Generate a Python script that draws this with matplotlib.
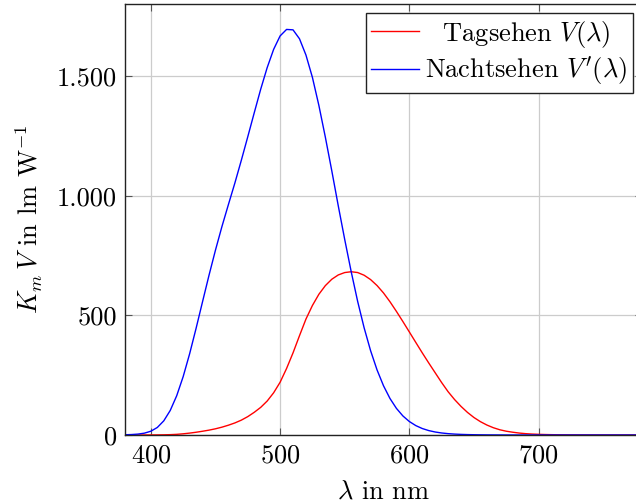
import matplotlib
matplotlib.use('Agg')
import matplotlib.pyplot as plt
from matplotlib.ticker import FuncFormatter, MultipleLocator

# Wellenlängen in nm (5-nm-Raster)
wavelength = list(range(380, 785, 5))

# Hellempfindlichkeit Tagsehen V(λ), relativ
v_photopic = [
    0.000039, 0.000064, 0.00012, 0.000217, 0.000396, 0.00064, 0.00121, 0.00218,
    0.004, 0.0073, 0.0116, 0.01684, 0.023, 0.0298, 0.038, 0.048, 0.06, 0.0739,
    0.09098, 0.1126, 0.13902, 0.1693, 0.20802, 0.2586, 0.323, 0.4073, 0.503,
    0.6082, 0.71, 0.7932, 0.862, 0.91485, 0.954, 0.9803, 0.99495, 1.0, 0.995,
    0.9786, 0.952, 0.9154, 0.87, 0.8163, 0.757, 0.6949, 0.631, 0.5668, 0.503,
    0.4412, 0.381, 0.321, 0.265, 0.217, 0.175, 0.1382, 0.107, 0.0816, 0.061,
    0.04458, 0.032, 0.0232, 0.017, 0.01192, 0.00821, 0.005723, 0.004102,
    0.002929, 0.002091, 0.001484, 0.001047, 0.00074, 0.00052, 0.000361,
    0.000249, 0.000172, 0.00012, 0.0000848, 0.00006, 0.0000424, 0.00003,
    0.0000212, 0.000015,
]

# Hellempfindlichkeit Nachtsehen V'(λ), relativ
v_scotopic = [
    0.000589, 0.001108, 0.002209, 0.00453, 0.00929, 0.01852, 0.03484, 0.0604,
    0.0966, 0.1436, 0.1998, 0.2625, 0.3281, 0.3931, 0.455, 0.513, 0.567, 0.62,
    0.676, 0.734, 0.793, 0.851, 0.904, 0.949, 0.982, 0.998, 0.997, 0.975,
    0.935, 0.88, 0.811, 0.733, 0.65, 0.564, 0.481, 0.402, 0.3288, 0.2639,
    0.2076, 0.1602, 0.1212, 0.0899, 0.0655, 0.0469, 0.03315, 0.02312, 0.01593,
    0.01088, 0.00737, 0.00497, 0.003335, 0.002235, 0.001497, 0.001005,
    0.000677, 0.000459, 0.000313, 0.000215, 0.000148, 0.000103, 0.000072,
    0.00005, 0.000035, 0.000025, 0.000018, 0.000013, 0.000009, 0.000007,
    0.000005, 0.000003, 0.000003, 0.000002, 0.000001, 0.000001, 0.000001,
    0.0, 0.0, 0.0, 0.0, 0.0, 0.0,
]

# Maximalwerte des photometrischen Strahlungsäquivalents in lm/W
km_photopic = 683
km_scotopic = 1700

label_photopic = r'  Tagsehen $V(\lambda)$'
label_scotopic = r"Nachtsehen $V'(\lambda)$"

plt.rcParams['font.family'] = 'serif'
plt.rcParams['font.serif'] = ['cmr10']
plt.rcParams['mathtext.fontset'] = 'cm'
plt.rcParams['axes.formatter.use_mathtext'] = True
plt.rcParams['font.size'] = 19

fig = plt.figure(figsize=(6.36, 5.04), dpi=100)
# rechte Achsenkante liegt knapp außerhalb des Bildes
ax = fig.add_axes([125 / 636, 1 - 435 / 504, 517 / 636, 431 / 504])

ax.plot(wavelength, [km_photopic * v for v in v_photopic], color='red', lw=1.0,
        label=label_photopic)
ax.plot(wavelength, [km_scotopic * v for v in v_scotopic], color='blue', lw=1.0,
        label=label_scotopic)

ax.set_xlim(380, 780)
ax.set_ylim(0, 1803)
ax.xaxis.set_major_locator(MultipleLocator(100))
ax.yaxis.set_major_locator(MultipleLocator(500))

# Tausendertrennzeichen als Punkt
ax.yaxis.set_major_formatter(FuncFormatter(lambda y, _: f'{int(y):,}'.replace(',', '.')))

ax.grid(True, color='#cccccc', lw=0.9)
ax.set_axisbelow(True)
ax.tick_params(direction='in', top=True, right=True, length=5, width=0.8,
               color='#555555', labelsize=19, pad=6)
for s in ax.spines.values():
    s.set_color('#222222')
    s.set_linewidth(1.0)

ax.set_xlabel(r'$\lambda$ in nm', fontsize=19, labelpad=9)
ax.set_ylabel(r'$K_m\,V$ in lm W$^{-1}$', fontsize=19, labelpad=8)

leg = ax.legend(loc='upper right', fontsize=19, frameon=True, fancybox=False,
                framealpha=1, edgecolor='#222222', borderpad=0.2, labelspacing=0.2,
                handlelength=1.8, handletextpad=0.25, borderaxespad=0.35)
leg.get_frame().set_linewidth(1.0)

fig.savefig('out.png', dpi=100)
